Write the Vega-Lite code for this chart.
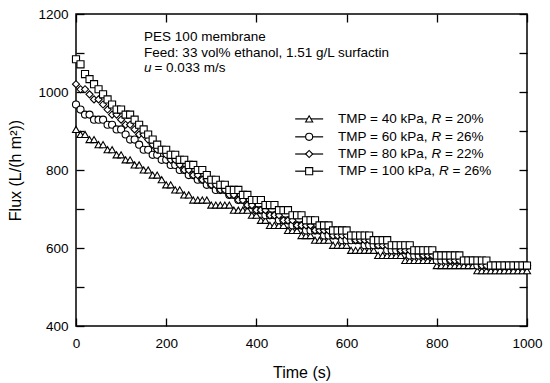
{
  "$schema": "https://vega.github.io/schema/vega-lite/v6.json",
  "autosize": "none",
  "padding": {"left": 76, "top": 14, "right": 23, "bottom": 57},
  "width": 451,
  "height": 312,
  "config": {
    "font": "Liberation Sans",
    "view": {"stroke": "black", "strokeWidth": 1.5},
    "axis": {"domain": false, "grid": false, "format": "d", "tickColor": "black", "tickSize": -8, "tickWidth": 1.3, "labelColor": "black", "labelFontSize": 13.5, "labelFont": "Liberation Sans", "titleFont": "Liberation Sans", "titleFontSize": 16, "titleFontWeight": "normal", "titleColor": "black"}
  },
  "datasets": {
    "pts": [
      {"s":"40","t":0,"f":904},{"s":"40","t":10,"f":891},{"s":"40","t":20,"f":891},{"s":"40","t":30,"f":878},{"s":"40","t":40,"f":878},{"s":"40","t":50,"f":865},{"s":"40","t":60,"f":865},{"s":"40","t":70,"f":852},{"s":"40","t":80,"f":852},{"s":"40","t":90,"f":839},{"s":"40","t":100,"f":839},{"s":"40","t":110,"f":826},{"s":"40","t":120,"f":826},{"s":"40","t":130,"f":813},{"s":"40","t":140,"f":813},{"s":"40","t":150,"f":800},{"s":"40","t":160,"f":800},{"s":"40","t":170,"f":787},{"s":"40","t":180,"f":787},{"s":"40","t":190,"f":775},{"s":"40","t":200,"f":762},{"s":"40","t":210,"f":762},{"s":"40","t":220,"f":749},{"s":"40","t":230,"f":749},{"s":"40","t":240,"f":736},{"s":"40","t":250,"f":736},{"s":"40","t":260,"f":723},{"s":"40","t":270,"f":723},{"s":"40","t":280,"f":723},{"s":"40","t":290,"f":723},{"s":"40","t":300,"f":710},{"s":"40","t":310,"f":710},{"s":"40","t":320,"f":710},{"s":"40","t":330,"f":710},{"s":"40","t":340,"f":710},{"s":"40","t":350,"f":697},{"s":"40","t":360,"f":697},{"s":"40","t":370,"f":697},{"s":"40","t":380,"f":697},{"s":"40","t":390,"f":684},{"s":"40","t":400,"f":684},{"s":"40","t":410,"f":671},{"s":"40","t":420,"f":671},{"s":"40","t":430,"f":658},{"s":"40","t":440,"f":658},{"s":"40","t":450,"f":658},{"s":"40","t":460,"f":658},{"s":"40","t":470,"f":645},{"s":"40","t":480,"f":645},{"s":"40","t":490,"f":645},{"s":"40","t":500,"f":632},{"s":"40","t":510,"f":632},{"s":"40","t":520,"f":632},{"s":"40","t":530,"f":620},{"s":"40","t":540,"f":620},{"s":"40","t":550,"f":620},{"s":"40","t":560,"f":620},{"s":"40","t":570,"f":607},{"s":"40","t":580,"f":607},{"s":"40","t":590,"f":607},{"s":"40","t":600,"f":607},{"s":"40","t":610,"f":594},{"s":"40","t":620,"f":594},{"s":"40","t":630,"f":594},{"s":"40","t":640,"f":594},{"s":"40","t":650,"f":594},{"s":"40","t":660,"f":594},{"s":"40","t":670,"f":581},{"s":"40","t":680,"f":581},{"s":"40","t":690,"f":581},{"s":"40","t":700,"f":581},{"s":"40","t":710,"f":581},{"s":"40","t":720,"f":581},{"s":"40","t":730,"f":568},{"s":"40","t":740,"f":568},{"s":"40","t":750,"f":568},{"s":"40","t":760,"f":568},{"s":"40","t":770,"f":568},{"s":"40","t":780,"f":568},{"s":"40","t":790,"f":568},{"s":"40","t":800,"f":555},{"s":"40","t":810,"f":555},{"s":"40","t":820,"f":555},{"s":"40","t":830,"f":555},{"s":"40","t":840,"f":555},{"s":"40","t":850,"f":555},{"s":"40","t":860,"f":555},{"s":"40","t":870,"f":555},{"s":"40","t":880,"f":555},{"s":"40","t":890,"f":542},{"s":"40","t":900,"f":542},{"s":"40","t":910,"f":542},{"s":"40","t":920,"f":542},{"s":"40","t":930,"f":542},{"s":"40","t":940,"f":542},{"s":"40","t":950,"f":542},{"s":"40","t":960,"f":542},{"s":"40","t":970,"f":542},{"s":"40","t":980,"f":542},{"s":"40","t":990,"f":542},{"s":"40","t":1000,"f":542},
      {"s":"60","t":0,"f":968},{"s":"60","t":10,"f":955},{"s":"60","t":20,"f":942},{"s":"60","t":30,"f":942},{"s":"60","t":40,"f":929},{"s":"60","t":50,"f":929},{"s":"60","t":60,"f":929},{"s":"60","t":70,"f":916},{"s":"60","t":80,"f":916},{"s":"60","t":90,"f":904},{"s":"60","t":100,"f":904},{"s":"60","t":110,"f":891},{"s":"60","t":120,"f":878},{"s":"60","t":130,"f":878},{"s":"60","t":140,"f":865},{"s":"60","t":150,"f":852},{"s":"60","t":160,"f":852},{"s":"60","t":170,"f":839},{"s":"60","t":180,"f":839},{"s":"60","t":190,"f":826},{"s":"60","t":200,"f":826},{"s":"60","t":210,"f":813},{"s":"60","t":220,"f":813},{"s":"60","t":230,"f":800},{"s":"60","t":240,"f":800},{"s":"60","t":250,"f":787},{"s":"60","t":260,"f":787},{"s":"60","t":270,"f":775},{"s":"60","t":280,"f":775},{"s":"60","t":290,"f":762},{"s":"60","t":300,"f":762},{"s":"60","t":310,"f":749},{"s":"60","t":320,"f":749},{"s":"60","t":330,"f":749},{"s":"60","t":340,"f":736},{"s":"60","t":350,"f":736},{"s":"60","t":360,"f":723},{"s":"60","t":370,"f":723},{"s":"60","t":380,"f":710},{"s":"60","t":390,"f":710},{"s":"60","t":400,"f":697},{"s":"60","t":410,"f":697},{"s":"60","t":420,"f":684},{"s":"60","t":430,"f":684},{"s":"60","t":440,"f":684},{"s":"60","t":450,"f":671},{"s":"60","t":460,"f":671},{"s":"60","t":470,"f":671},{"s":"60","t":480,"f":658},{"s":"60","t":490,"f":658},{"s":"60","t":500,"f":658},{"s":"60","t":510,"f":645},{"s":"60","t":520,"f":645},{"s":"60","t":530,"f":645},{"s":"60","t":540,"f":645},{"s":"60","t":550,"f":632},{"s":"60","t":560,"f":632},{"s":"60","t":570,"f":632},{"s":"60","t":580,"f":632},{"s":"60","t":590,"f":620},{"s":"60","t":600,"f":620},{"s":"60","t":610,"f":620},{"s":"60","t":620,"f":620},{"s":"60","t":630,"f":620},{"s":"60","t":640,"f":607},{"s":"60","t":650,"f":607},{"s":"60","t":660,"f":607},{"s":"60","t":670,"f":607},{"s":"60","t":680,"f":607},{"s":"60","t":690,"f":594},{"s":"60","t":700,"f":594},{"s":"60","t":710,"f":594},{"s":"60","t":720,"f":594},{"s":"60","t":730,"f":594},{"s":"60","t":740,"f":581},{"s":"60","t":750,"f":581},{"s":"60","t":760,"f":581},{"s":"60","t":770,"f":581},{"s":"60","t":780,"f":581},{"s":"60","t":790,"f":581},{"s":"60","t":800,"f":568},{"s":"60","t":810,"f":568},{"s":"60","t":820,"f":568},{"s":"60","t":830,"f":568},{"s":"60","t":840,"f":568},{"s":"60","t":850,"f":568},{"s":"60","t":860,"f":568},{"s":"60","t":870,"f":568},{"s":"60","t":880,"f":568},{"s":"60","t":890,"f":555},{"s":"60","t":900,"f":555},{"s":"60","t":910,"f":555},{"s":"60","t":920,"f":555},{"s":"60","t":930,"f":555},{"s":"60","t":940,"f":555},{"s":"60","t":950,"f":555},{"s":"60","t":960,"f":555},{"s":"60","t":970,"f":555},{"s":"60","t":980,"f":555},{"s":"60","t":990,"f":555},{"s":"60","t":1000,"f":555},
      {"s":"80","t":0,"f":1020},{"s":"80","t":10,"f":1007},{"s":"80","t":20,"f":1007},{"s":"80","t":30,"f":994},{"s":"80","t":40,"f":981},{"s":"80","t":50,"f":981},{"s":"80","t":60,"f":968},{"s":"80","t":70,"f":955},{"s":"80","t":80,"f":942},{"s":"80","t":90,"f":942},{"s":"80","t":100,"f":929},{"s":"80","t":110,"f":916},{"s":"80","t":120,"f":916},{"s":"80","t":130,"f":904},{"s":"80","t":140,"f":891},{"s":"80","t":150,"f":891},{"s":"80","t":160,"f":878},{"s":"80","t":170,"f":865},{"s":"80","t":180,"f":852},{"s":"80","t":190,"f":852},{"s":"80","t":200,"f":839},{"s":"80","t":210,"f":826},{"s":"80","t":220,"f":826},{"s":"80","t":230,"f":813},{"s":"80","t":240,"f":800},{"s":"80","t":250,"f":800},{"s":"80","t":260,"f":787},{"s":"80","t":270,"f":787},{"s":"80","t":280,"f":775},{"s":"80","t":290,"f":775},{"s":"80","t":300,"f":762},{"s":"80","t":310,"f":762},{"s":"80","t":320,"f":749},{"s":"80","t":330,"f":749},{"s":"80","t":340,"f":736},{"s":"80","t":350,"f":736},{"s":"80","t":360,"f":723},{"s":"80","t":370,"f":723},{"s":"80","t":380,"f":710},{"s":"80","t":390,"f":710},{"s":"80","t":400,"f":697},{"s":"80","t":410,"f":697},{"s":"80","t":420,"f":697},{"s":"80","t":430,"f":684},{"s":"80","t":440,"f":684},{"s":"80","t":450,"f":684},{"s":"80","t":460,"f":671},{"s":"80","t":470,"f":671},{"s":"80","t":480,"f":671},{"s":"80","t":490,"f":658},{"s":"80","t":500,"f":658},{"s":"80","t":510,"f":658},{"s":"80","t":520,"f":658},{"s":"80","t":530,"f":645},{"s":"80","t":540,"f":645},{"s":"80","t":550,"f":645},{"s":"80","t":560,"f":645},{"s":"80","t":570,"f":632},{"s":"80","t":580,"f":632},{"s":"80","t":590,"f":632},{"s":"80","t":600,"f":632},{"s":"80","t":610,"f":632},{"s":"80","t":620,"f":620},{"s":"80","t":630,"f":620},{"s":"80","t":640,"f":620},{"s":"80","t":650,"f":620},{"s":"80","t":660,"f":620},{"s":"80","t":670,"f":607},{"s":"80","t":680,"f":607},{"s":"80","t":690,"f":607},{"s":"80","t":700,"f":607},{"s":"80","t":710,"f":607},{"s":"80","t":720,"f":594},{"s":"80","t":730,"f":594},{"s":"80","t":740,"f":594},{"s":"80","t":750,"f":594},{"s":"80","t":760,"f":594},{"s":"80","t":770,"f":581},{"s":"80","t":780,"f":581},{"s":"80","t":790,"f":581},{"s":"80","t":800,"f":581},{"s":"80","t":810,"f":581},{"s":"80","t":820,"f":581},{"s":"80","t":830,"f":568},{"s":"80","t":840,"f":568},{"s":"80","t":850,"f":568},{"s":"80","t":860,"f":568},{"s":"80","t":870,"f":568},{"s":"80","t":880,"f":568},{"s":"80","t":890,"f":568},{"s":"80","t":900,"f":555},{"s":"80","t":910,"f":555},{"s":"80","t":920,"f":555},{"s":"80","t":930,"f":555},{"s":"80","t":940,"f":555},{"s":"80","t":950,"f":555},{"s":"80","t":960,"f":555},{"s":"80","t":970,"f":555},{"s":"80","t":980,"f":555},{"s":"80","t":990,"f":555},{"s":"80","t":1000,"f":555},
      {"s":"100","t":0,"f":1084},{"s":"100","t":10,"f":1071},{"s":"100","t":20,"f":1046},{"s":"100","t":30,"f":1033},{"s":"100","t":40,"f":1020},{"s":"100","t":50,"f":1007},{"s":"100","t":60,"f":994},{"s":"100","t":70,"f":981},{"s":"100","t":80,"f":968},{"s":"100","t":90,"f":955},{"s":"100","t":100,"f":955},{"s":"100","t":110,"f":942},{"s":"100","t":120,"f":942},{"s":"100","t":130,"f":929},{"s":"100","t":140,"f":916},{"s":"100","t":150,"f":904},{"s":"100","t":160,"f":891},{"s":"100","t":170,"f":878},{"s":"100","t":180,"f":865},{"s":"100","t":190,"f":852},{"s":"100","t":200,"f":852},{"s":"100","t":210,"f":839},{"s":"100","t":220,"f":839},{"s":"100","t":230,"f":826},{"s":"100","t":240,"f":826},{"s":"100","t":250,"f":813},{"s":"100","t":260,"f":813},{"s":"100","t":270,"f":800},{"s":"100","t":280,"f":800},{"s":"100","t":290,"f":787},{"s":"100","t":300,"f":775},{"s":"100","t":310,"f":775},{"s":"100","t":320,"f":762},{"s":"100","t":330,"f":762},{"s":"100","t":340,"f":749},{"s":"100","t":350,"f":749},{"s":"100","t":360,"f":749},{"s":"100","t":370,"f":736},{"s":"100","t":380,"f":736},{"s":"100","t":390,"f":723},{"s":"100","t":400,"f":723},{"s":"100","t":410,"f":723},{"s":"100","t":420,"f":710},{"s":"100","t":430,"f":710},{"s":"100","t":440,"f":710},{"s":"100","t":450,"f":697},{"s":"100","t":460,"f":697},{"s":"100","t":470,"f":697},{"s":"100","t":480,"f":684},{"s":"100","t":490,"f":684},{"s":"100","t":500,"f":684},{"s":"100","t":510,"f":671},{"s":"100","t":520,"f":671},{"s":"100","t":530,"f":671},{"s":"100","t":540,"f":658},{"s":"100","t":550,"f":658},{"s":"100","t":560,"f":658},{"s":"100","t":570,"f":645},{"s":"100","t":580,"f":645},{"s":"100","t":590,"f":645},{"s":"100","t":600,"f":645},{"s":"100","t":610,"f":632},{"s":"100","t":620,"f":632},{"s":"100","t":630,"f":632},{"s":"100","t":640,"f":632},{"s":"100","t":650,"f":632},{"s":"100","t":660,"f":620},{"s":"100","t":670,"f":620},{"s":"100","t":680,"f":620},{"s":"100","t":690,"f":620},{"s":"100","t":700,"f":607},{"s":"100","t":710,"f":607},{"s":"100","t":720,"f":607},{"s":"100","t":730,"f":607},{"s":"100","t":740,"f":607},{"s":"100","t":750,"f":594},{"s":"100","t":760,"f":594},{"s":"100","t":770,"f":594},{"s":"100","t":780,"f":594},{"s":"100","t":790,"f":594},{"s":"100","t":800,"f":581},{"s":"100","t":810,"f":581},{"s":"100","t":820,"f":581},{"s":"100","t":830,"f":581},{"s":"100","t":840,"f":581},{"s":"100","t":850,"f":581},{"s":"100","t":860,"f":568},{"s":"100","t":870,"f":568},{"s":"100","t":880,"f":568},{"s":"100","t":890,"f":568},{"s":"100","t":900,"f":568},{"s":"100","t":910,"f":568},{"s":"100","t":920,"f":555},{"s":"100","t":930,"f":555},{"s":"100","t":940,"f":555},{"s":"100","t":950,"f":555},{"s":"100","t":960,"f":555},{"s":"100","t":970,"f":555},{"s":"100","t":980,"f":555},{"s":"100","t":990,"f":555},{"s":"100","t":1000,"f":555}
    ],
    "leg": [
      {"s":"40","x1":486,"x2":548,"xm":517,"y":931},
      {"s":"60","x1":486,"x2":548,"xm":517,"y":885},
      {"s":"80","x1":486,"x2":548,"xm":517,"y":841},
      {"s":"100","x1":486,"x2":548,"xm":517,"y":797}
    ],
    "txt": [
      {"x":151,"y":1141,"s":"PES 100 membrane"},
      {"x":151,"y":1100,"s":"Feed: 33 vol% ethanol, 1.51 g/L surfactin"},
      {"x":174,"y":1061,"s":"= 0.033 m/s"},
      {"x":581,"y":931,"s":"TMP = 40 kPa,"},
      {"x":581,"y":885,"s":"TMP = 60 kPa,"},
      {"x":581,"y":841,"s":"TMP = 80 kPa,"},
      {"x":581,"y":797,"s":"TMP = 100 kPa,"},
      {"x":818,"y":931,"s":"= 20%"},
      {"x":818,"y":885,"s":"= 26%"},
      {"x":818,"y":841,"s":"= 22%"},
      {"x":835,"y":797,"s":"= 26%"}
    ],
    "ital": [
      {"x":151,"y":1061,"s":"u"},
      {"x":788,"y":931,"s":"R"},
      {"x":788,"y":885,"s":"R"},
      {"x":788,"y":841,"s":"R"},
      {"x":805,"y":797,"s":"R"}
    ]
  },
  "layer": [
    {
      "data": {"name": "pts"},
      "mark": {"type": "point", "filled": true, "fill": "white", "stroke": "black", "strokeWidth": 1.1, "size": 50, "opacity": 1},
      "encoding": {
        "x": {"field": "t", "type": "quantitative", "scale": {"domain": [0, 1000]}, "axis": {"orient": "bottom", "values": [0,200,400,600,800,1000], "labelFlush": false, "title": "Time (s)", "labelPadding": 18, "titleBaseline": "middle", "titleY": 46}},
        "y": {"field": "f", "type": "quantitative", "scale": {"domain": [400, 1200]}, "axis": {"orient": "left", "values": [400,500,600,700,800,900,1000,1100,1200], "labelExpr": "datum.value % 200 == 0 ? datum.label : ''", "title": "Flux (L/(h m²))", "labelPadding": 16, "titleBaseline": "middle", "titleX": -61, "titleY": 156}},
        "shape": {"field": "s", "type": "nominal", "scale": {"domain": ["40","60","80","100"], "range": ["triangle-up","circle","diamond","square"]}, "legend": null}
      }
    },
    {
      "data": {"name": "leg"},
      "mark": {"type": "rule", "color": "black", "strokeWidth": 1.2},
      "encoding": {
        "x": {"field": "x1", "type": "quantitative", "scale": {"domain": [0, 1000]}, "axis": null},
        "x2": {"field": "x2"},
        "y": {"field": "y", "type": "quantitative", "scale": {"domain": [400, 1200]}, "axis": null}
      }
    },
    {
      "data": {"name": "leg"},
      "mark": {"type": "point", "filled": true, "fill": "white", "stroke": "black", "strokeWidth": 1.1, "size": 50, "opacity": 1},
      "encoding": {
        "x": {"field": "xm", "type": "quantitative", "scale": {"domain": [0, 1000]}, "axis": null},
        "y": {"field": "y", "type": "quantitative", "scale": {"domain": [400, 1200]}, "axis": null},
        "shape": {"field": "s", "type": "nominal", "scale": {"domain": ["40","60","80","100"], "range": ["triangle-up","circle","diamond","square"]}, "legend": null}
      }
    },
    {
      "data": {"name": "ital"},
      "mark": {"type": "text", "align": "left", "baseline": "middle", "fontSize": 13.5, "fontStyle": "italic", "font": "Liberation Sans", "color": "black"},
      "encoding": {
        "x": {"field": "x", "type": "quantitative", "scale": {"domain": [0, 1000]}, "axis": null},
        "y": {"field": "y", "type": "quantitative", "scale": {"domain": [400, 1200]}, "axis": null},
        "text": {"field": "s"}
      }
    },
    {
      "data": {"name": "txt"},
      "mark": {"type": "text", "align": "left", "baseline": "middle", "fontSize": 13.5, "font": "Liberation Sans", "color": "black"},
      "encoding": {
        "x": {"field": "x", "type": "quantitative", "scale": {"domain": [0, 1000]}, "axis": {"orient": "top", "values": [0,200,400,600,800,1000], "labels": false, "title": null}},
        "y": {"field": "y", "type": "quantitative", "scale": {"domain": [400, 1200]}, "axis": {"orient": "right", "values": [400,500,600,700,800,900,1000,1100,1200], "labels": false, "title": null}},
        "text": {"field": "s"}
      }
    }
  ],
  "resolve": {"axis": {"x": "independent", "y": "independent"}}
}
